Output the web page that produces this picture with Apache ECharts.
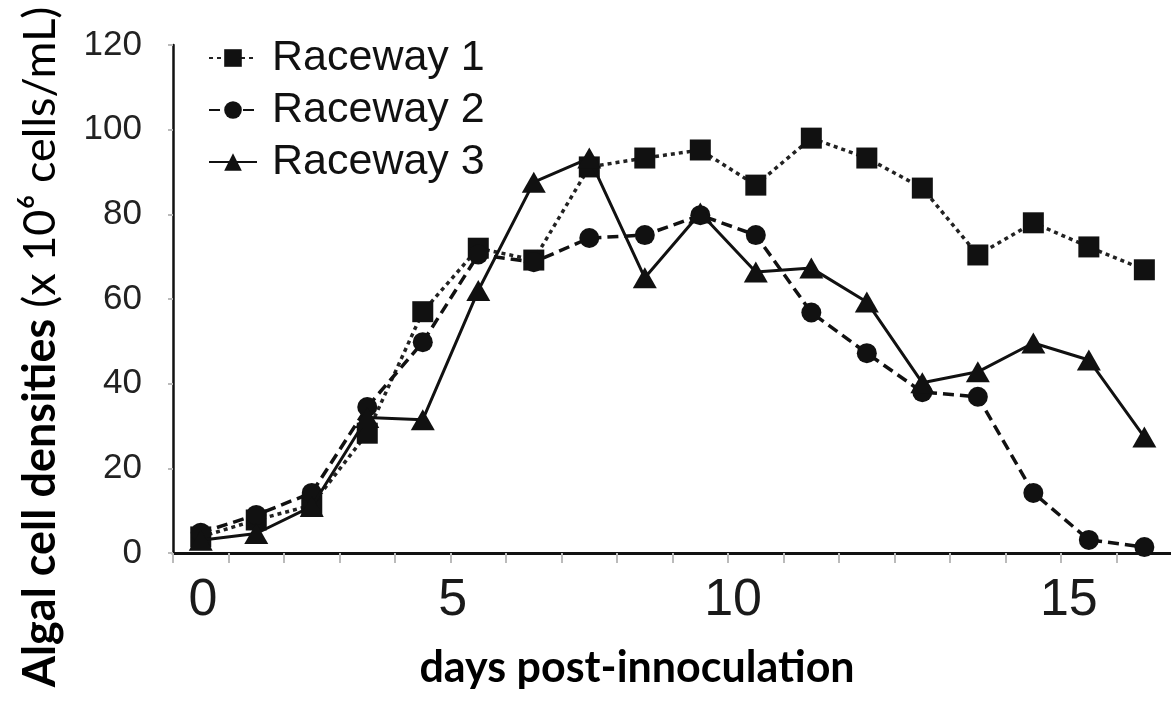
<!DOCTYPE html>
<html><head><meta charset="utf-8">
<script src="https://cdn.jsdelivr.net/npm/echarts@6/dist/echarts.min.js"></script>
<style>html,body{margin:0;padding:0;background:#fff}#c{width:1171px;height:701px}</style>
</head><body><div id="c"></div>
<script>
// sampling points (in sample order, plotted on the figure's own day scale)
const samples = [0, 1, 2, 3, 4, 5, 6, 7, 8, 9, 10, 11, 12, 13, 14, 15, 16, 17];
const raceway1 = [3.8, 7.8, 11.3, 28.3, 57.0, 72.0, 69.2, 91.2, 93.3, 95.2, 86.9, 98.0, 93.3, 86.2, 70.4, 78.0, 72.3, 66.9];
const raceway2 = [4.8, 9.0, 14.2, 34.5, 49.8, 70.5, 68.7, 74.4, 75.1, 79.8, 75.1, 56.8, 47.2, 38.0, 36.9, 14.2, 3.1, 1.4];
const raceway3 = [3.0, 4.6, 11.0, 32.0, 31.5, 62.0, 87.6, 93.3, 65.0, 80.3, 66.4, 67.3, 59.3, 40.2, 42.8, 49.6, 45.6, 27.4];
const seriesNames = ['Raceway 1', 'Raceway 2', 'Raceway 3'];
const xTickLabels = ['0', '5', '10', '15'];
const xTickLabelAt = [0.04, 4.54, 9.59, 15.64];
const xMinorTicks = [-0.5, 0.5, 1.5, 2.5, 3.5, 4.5, 5.5, 6.5, 7.5, 8.5, 9.5, 10.5, 11.5, 12.5, 13.5, 14.5, 15.5, 16.5];
const yTicks = [0, 20, 40, 60, 80, 100, 120];

const pair = arr => samples.map((s, i) => [s, arr[i]]);
const ink = '#111';

const chart = echarts.init(document.getElementById('c'), null, {renderer: 'canvas'});
chart.setOption({
  animation: false,
  backgroundColor: '#fff',
  grid: {left: 173, right: 0, top: 45, bottom: 148, containLabel: false},
  legend: {
    orient: 'vertical', left: 203, top: 31,
    itemWidth: 48, itemHeight: 22, itemGap: 8,
    textStyle: {fontFamily: 'Liberation Sans, Arial, sans-serif', fontSize: 43, color: '#111', lineHeight: 44, padding: [0, 0, 0, 10]},
    data: seriesNames
  },
  xAxis: {
    type: 'value', min: -0.5, max: 17.48,
    splitLine: {show: false},
    axisLine: {show: true, onZero: false, lineStyle: {color: ink, width: 3}},
    axisTick: {show: true, customValues: xMinorTicks, length: 10, lineStyle: {color: '#bbb', width: 2}},
    axisLabel: {
      customValues: xTickLabelAt, margin: 22,
      formatter: v => { const k = xTickLabelAt.findIndex(p => Math.abs(p - v) < 1e-6); return k >= 0 ? xTickLabels[k] : ''; },
      fontFamily: 'Liberation Sans, Arial, sans-serif', fontSize: 52, color: '#1a1a1a'
    },
    name: 'days post-innoculation', nameLocation: 'middle', nameGap: 94,
    nameTextStyle: {fontFamily: 'Lato, sans-serif', fontWeight: 'bold', fontSize: 43, color: '#000', padding: [0, 70, 0, 0]}
  },
  yAxis: {
    type: 'value', min: 0, max: 120, interval: 20,
    splitLine: {show: false},
    axisLine: {show: true, onZero: false, lineStyle: {color: ink, width: 2.5}},
    axisTick: {show: true, length: 5, lineStyle: {color: '#bbb', width: 2}},
    axisLabel: {
      customValues: yTicks, margin: 31,
      fontFamily: 'Liberation Sans, Arial, sans-serif', fontSize: 35, color: '#222'
    },
    name: '{b|Algal cell densities }{n|(x 10⁶ cells/mL)}',
    nameLocation: 'middle', nameRotate: 90, nameGap: 110,
    nameTextStyle: {
      padding: [0, 96, 0, 0],
      rich: {
        b: {fontFamily: 'Lato, sans-serif', fontWeight: 'bold', fontSize: 45, color: '#000'},
        n: {fontFamily: 'Lato, sans-serif', fontSize: 45, color: '#000'}
      }
    }
  },
  series: [
    {
      name: seriesNames[0], type: 'line', data: pair(raceway1),
      symbol: 'rect', symbolSize: 21,
      lineStyle: {color: '#222', width: 3.5, type: [4, 4]},
      itemStyle: {color: ink}, z: 3
    },
    {
      name: seriesNames[1], type: 'line', data: pair(raceway2),
      symbol: 'circle', symbolSize: 20,
      lineStyle: {color: ink, width: 3.5, type: [11, 6]},
      itemStyle: {color: ink}, z: 4
    },
    {
      name: seriesNames[2], type: 'line', data: pair(raceway3),
      symbol: 'triangle', symbolSize: [24, 21],
      lineStyle: {color: ink, width: 3, type: 'solid'},
      itemStyle: {color: ink}, z: 5
    }
  ]
});
</script>
</body></html>
